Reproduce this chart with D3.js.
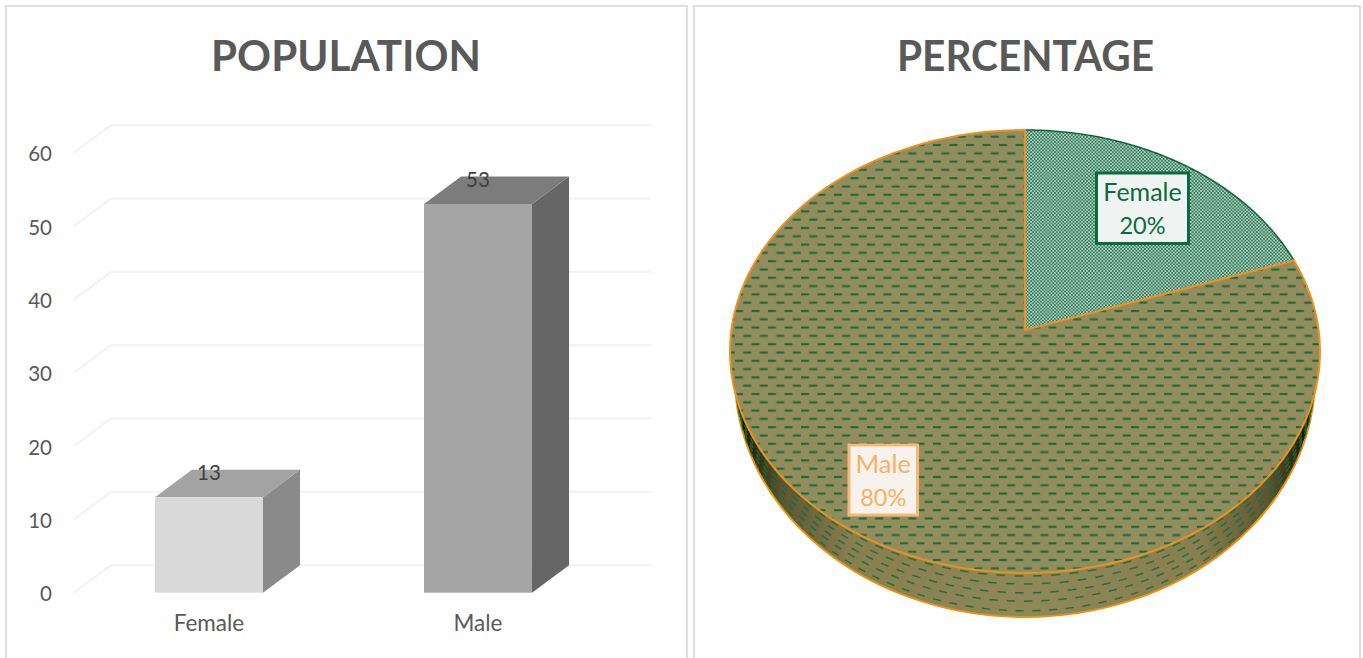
<!DOCTYPE html>
<html><head><meta charset="utf-8">
<script src="https://cdn.jsdelivr.net/npm/d3@7"></script>
<style>html,body{margin:0;padding:0;background:#fff;overflow:hidden}text{font-family:Lato,"Open Sans",sans-serif}</style>
</head><body><svg id="c" width="1363" height="658"></svg>
<script>
const categories = ["Female", "Male"];
const populationValues = [13, 53];
const percentLabels = [20, 80];
const yTicks = [0, 10, 20, 30, 40, 50, 60];
const titles = ["POPULATION", "PERCENTAGE"];
const barFront = ["#d9d9d9", "#a5a5a5"];
const barTop = ["#a3a3a3", "#7c7c7c"];
const barSide = ["#8a8a8a", "#666666"];

const svg = d3.select("#c");
const defs = svg.append("defs");

// panels
[[6, 681], [694, 666]].forEach(([x, w]) => svg.append("rect")
  .attr("x", x).attr("y", 6).attr("width", w).attr("height", 670)
  .attr("fill", "#fff").attr("stroke", "#dedede").attr("stroke-width", 2));
svg.selectAll("text.title").data(titles).join("text").attr("class", "title")
  .attr("x", (d, i) => i ? 1025.5 : 346).attr("y", 71).attr("text-anchor", "middle")
  .attr("font-size", 42).attr("font-weight", 700).attr("fill", "#595959")
  .attr("textLength", (d, i) => i ? 257 : 270).attr("lengthAdjust", "spacingAndGlyphs").text(d => d);

// ---------- 3D column chart
const dx = 37, dy = -27.5;
const y = d3.scaleLinear().domain([0, 60]).range([592.7, 152.7]);
const x = d3.scaleBand().domain(categories).range([74, 613]).paddingInner(0.5985).paddingOuter(0.301);
const grid = svg.append("g").attr("fill", "none").attr("stroke", "#f2f2f2").attr("stroke-width", 2);
yTicks.forEach(t => grid.append("path")
  .attr("d", d3.line()([[74, y(t)], [74 + dx, y(t) + dy], [651, y(t) + dy]])));
const axisG = svg.append("g").attr("transform", "translate(61,0)")
  .call(d3.axisLeft(y).tickValues(yTicks).tickSize(0).tickPadding(9));
axisG.select(".domain").remove();
axisG.selectAll("text").attr("font-size", 20.5).attr("fill", "#595959").attr("dy", "0.4em").style("font-family", "Lato");
const bars = svg.append("g").selectAll("g").data(categories).join("g");
bars.each(function (c, i) {
  const g = d3.select(this), x0 = x(c), x1 = x0 + x.bandwidth(), yv = y(populationValues[i]), yb = y(0);
  const line = d3.line();
  g.append("path").attr("fill", barSide[i]).attr("d", line([[x1, yv], [x1 + dx, yv + dy], [x1 + dx, yb + dy], [x1, yb]]) + "Z");
  g.append("path").attr("fill", barTop[i]).attr("d", line([[x0, yv], [x0 + dx, yv + dy], [x1 + dx, yv + dy], [x1, yv]]) + "Z");
  g.append("rect").attr("x", x0).attr("y", yv).attr("width", x.bandwidth()).attr("height", yb - yv).attr("fill", barFront[i]);
  g.append("text").attr("x", (x0 + x1) / 2).attr("y", yv - 17.5).attr("text-anchor", "middle")
    .attr("font-size", 20.5).attr("fill", "#404040").text(populationValues[i]);
  g.append("text").attr("x", (x0 + x1) / 2).attr("y", 631).attr("text-anchor", "middle")
    .attr("font-size", 22.5).attr("fill", "#595959").text(c);
});

// ---------- 3D pie, projected circle
const cx = 1025, apexY = 330, persp = 0.097, py = 219.4, px = 293.6;
const proj = a => {
  const X = Math.sin(a), Y = Math.cos(a), w = 1 + persp * Y;
  return [cx + px * X / w, apexY - py * Y / w];
};
const arcs = d3.pie().sort(null)(populationValues);
const arcPts = (a0, a1) => d3.range(0, 121).map(k => proj(a0 + (a1 - a0) * k / 120));
const sector = d => d3.line()([[cx, apexY], ...arcPts(d.startAngle, d.endAngle)]) + "Z";

// patterns
const pF = defs.append("pattern").attr("id", "pF").attr("patternUnits", "userSpaceOnUse").attr("width", 3.4).attr("height", 3.4);
pF.append("rect").attr("width", 3.4).attr("height", 3.4).attr("fill", "#5f9a80");
pF.append("rect").attr("width", 1.7).attr("height", 1.7).attr("fill", "#b4d0c2");
pF.append("rect").attr("x", 1.7).attr("y", 1.7).attr("width", 1.7).attr("height", 1.7).attr("fill", "#b4d0c2");
pF.append("rect").attr("x", 1.7).attr("y", 0).attr("width", 1.7).attr("height", 1.7).attr("fill", "#2c7a58");
pF.append("rect").attr("x", 0).attr("y", 1.7).attr("width", 1.7).attr("height", 1.7).attr("fill", "#2c7a58");
const pM = defs.append("pattern").attr("id", "pM").attr("patternUnits", "userSpaceOnUse")
  .attr("width", 16.5).attr("height", 16.6).attr("patternTransform", "translate(9,8.2)");
pM.append("rect").attr("width", 16.5).attr("height", 16.6).attr("fill", "#938c5c");
pM.append("rect").attr("x", 0).attr("y", 3).attr("width", 8).attr("height", 2).attr("fill", "#126b3c");
pM.append("rect").attr("x", 8.25).attr("y", 11.3).attr("width", 8).attr("height", 2).attr("fill", "#126b3c");
const gr = defs.append("linearGradient").attr("id", "side").attr("x1", 0).attr("x2", 1).attr("y1", 0).attr("y2", 0);
[[0, "#000000"], [0.03, "#2a2612"], [0.08, "#5c5530"], [0.2, "#877f50"], [0.5, "#8f8858"], [0.8, "#877f50"], [0.92, "#5c5530"], [0.97, "#2a2612"], [1, "#000000"]]
  .forEach(([o, c]) => gr.append("stop").attr("offset", o).attr("stop-color", c));

// side wall: lower ellipse seen below the top face
const base = { cx, cy: 377, rx: 290, ry: 240 };
defs.append("clipPath").attr("id", "baseClip").append("ellipse")
  .attr("cx", base.cx).attr("cy", base.cy).attr("rx", base.rx).attr("ry", base.ry);
svg.append("ellipse").attr("cx", base.cx).attr("cy", base.cy).attr("rx", base.rx).attr("ry", base.ry)
  .attr("fill", "url(#side)").attr("stroke", "#f0900f").attr("stroke-width", 2);
// wall hatching follows the rim
const wall = svg.append("g").attr("clip-path", "url(#baseClip)").attr("stroke", "#1c6b3c").attr("stroke-width", 1.5).attr("stroke-opacity", 0.9);
const rows = [0.07, 0.25, 0.45, 0.64, 0.86];
rows.forEach((f, r) => {
  for (let a = Math.PI / 2 + 0.05 + (r % 2) * 0.0285; a < 3 * Math.PI / 2 - 0.05; a += 0.057) {
    const pt = t => { const u = proj(t), v = [base.cx + base.rx * Math.sin(t), base.cy - base.ry * Math.cos(t)]; return [u[0] + (v[0] - u[0]) * f, u[1] + (v[1] - u[1]) * f]; };
    wall.append("path").attr("d", d3.line()([pt(a - 0.0138), pt(a + 0.0138)]));
  }
});

// top face
const strokes = ["#11633f", "#ee9120"];
svg.append("g").selectAll("path").data(arcs).join("path")
  .attr("d", sector)
  .attr("fill", (d, i) => i ? "url(#pM)" : "url(#pF)")
  .attr("stroke", "none");
svg.append("path").attr("d", d3.line()(arcPts(arcs[0].startAngle, arcs[0].endAngle)))
  .attr("fill", "none").attr("stroke", strokes[0]).attr("stroke-width", 1.5);
svg.append("path").attr("d", sector(arcs[1]))
  .attr("fill", "none").attr("stroke", strokes[1]).attr("stroke-width", 2).attr("stroke-linejoin", "round");

// data labels
const labels = [
  { box: [1096.5, 173, 92, 70.5], fill: "#eff3f1", stroke: "#0b6b40", text: "#0b6b40", s: 25 },
  { box: [849, 445, 68.5, 70], fill: "#f7f3ec", stroke: "#f5b878", text: "#f5b166", s: 25.5 }
];
labels.forEach((l, i) => {
  const [bx, by, bw, bh] = l.box;
  svg.append("rect").attr("x", bx).attr("y", by).attr("width", bw).attr("height", bh)
    .attr("fill", l.fill).attr("stroke", l.stroke).attr("stroke-width", 3);
  const t = svg.append("text").attr("text-anchor", "middle").attr("fill", l.text);
  t.append("tspan").attr("x", bx + bw / 2).attr("y", by + 28).attr("font-size", l.s).text(categories[i]);
  t.append("tspan").attr("x", bx + bw / 2).attr("y", by + 61).attr("font-size", 23.5).text(percentLabels[i] + "%");
});
</script></body></html>
